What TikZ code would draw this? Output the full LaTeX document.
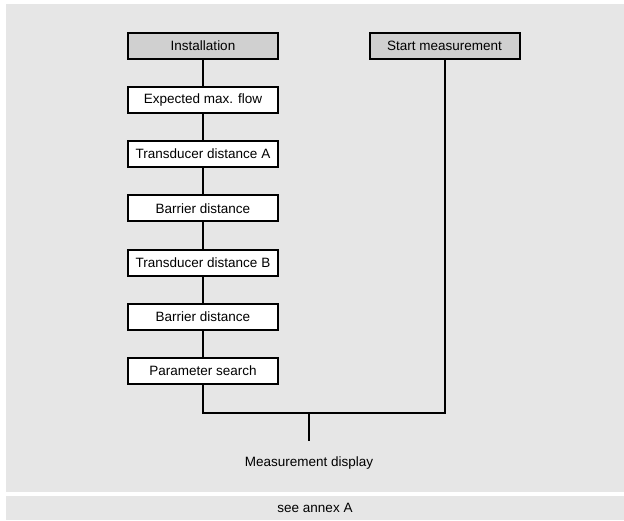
\documentclass[tikz,border=0pt]{standalone}
\usepackage{fontspec}
\setmainfont{Liberation Sans}
\definecolor{panelgray}{RGB}{230,230,230}
\definecolor{headgray}{RGB}{208,208,208}
\begin{document}
\begin{tikzpicture}[x=1pt,y=-1pt,
  font=\fontsize{13.5}{16}\selectfont,
  box/.style={draw=black, line width=2pt, fill=white, minimum width=150pt, minimum height=26pt, inner sep=0pt},
  headbox/.style={box, fill=headgray},
  conn/.style={line width=2pt}]
\useasboundingbox (0,0) rectangle (624,520);
\fill[panelgray] (6,4) rectangle (624,492);
\fill[panelgray] (6,496) rectangle (624,520);
\node[headbox] (inst) at (203,45.75) {Installation};
\node[box] (emf) at (203,99.95) {Expected max. flow};
\node[box] (tda) at (203,154.15) {Transducer distance A};
\node[box] (bd1) at (203,208.35) {Barrier distance};
\node[box] (tdb) at (203,262.55) {Transducer distance B};
\node[box] (bd2) at (203,316.75) {Barrier distance};
\node[box] (ps) at (203,370.95) {Parameter search};
\node[headbox] (sm) at (444.5,45.75) {Start measurement};
\node[anchor=north, inner xsep=0pt, inner ysep=15.5pt] (md) at (309,441) {Measurement display};
\node (annex) at (315,508) {see annex A};
\coordinate (j) at (309,413);
\draw[conn] (inst) -- (emf);
\draw[conn] (emf) -- (tda);
\draw[conn] (tda) -- (bd1);
\draw[conn] (bd1) -- (tdb);
\draw[conn] (tdb) -- (bd2);
\draw[conn] (bd2) -- (ps);
\draw[conn] (ps.south) |- (j) -| (sm.south);
\draw[conn] (j) -- (md.north);
\end{tikzpicture}
\end{document}
